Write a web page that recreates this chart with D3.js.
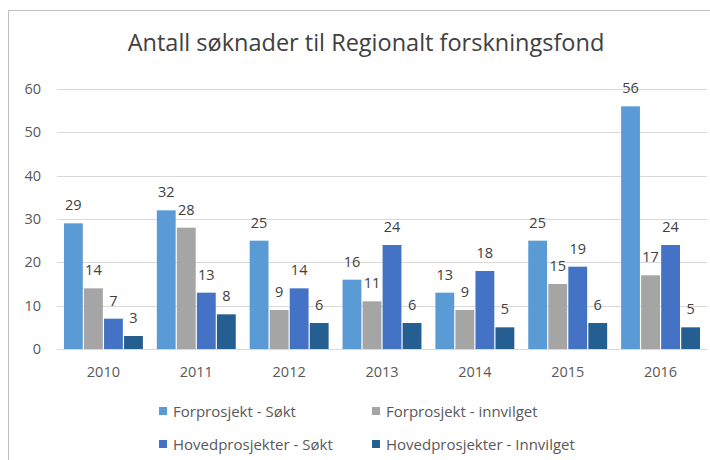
<!DOCTYPE html>
<html>
<head>
<meta charset="utf-8">
<script src="https://cdn.jsdelivr.net/npm/d3@7"></script>
<style>
  body { margin: 0; background: #fff; }
  svg text { font-family: "Open Sans", "Liberation Sans", sans-serif; }
</style>
</head>
<body>
<div id="chart"></div>
<script>
// data
const years = ["2010", "2011", "2012", "2013", "2014", "2015", "2016"];
const seriesNames = ["Forprosjekt - Søkt", "Forprosjekt - innvilget", "Hovedprosjekter - Søkt", "Hovedprosjekter - Innvilget"];
const forSokt = [29, 32, 25, 16, 13, 25, 56];
const forInnvilget = [14, 28, 9, 11, 9, 15, 17];
const hovedSokt = [7, 13, 14, 24, 18, 19, 24];
const hovedInnvilget = [3, 8, 6, 6, 5, 6, 5];
const yTicks = [0, 10, 20, 30, 40, 50, 60];
const colors = ["#5B9BD5", "#A5A5A5", "#4472C4", "#255E91"];

function main() {
    const allSeries = [forSokt, forInnvilget, hovedSokt, hovedInnvilget];
    const data = [];
    years.forEach(function(y, i) {
        allSeries.forEach(function(s, j) {
            data.push({year: y, key: seriesNames[j], value: s[i], idx: j});
        });
    });
    drawChart(data);
}

function drawChart(data) {
    const width = 710, height = 460;
    const margin = {top: 89, right: 3, bottom: 111, left: 57};

    const svg = d3.select("#chart")
        .append("svg")
        .attr("width", width)
        .attr("height", height);

    // outer frame
    svg.append("rect")
        .attr("x", 8.5).attr("y", 10.5)
        .attr("width", 720).attr("height", 470)
        .attr("fill", "#fff")
        .attr("stroke", "#bfbfbf");

    svg.append("text")
        .attr("x", 366).attr("y", 51)
        .attr("text-anchor", "middle")
        .style("font-size", "23.5px")
        .style("fill", "#404040")
        .text("Antall søknader til Regionalt forskningsfond");

    const xScale = d3.scaleBand()
        .domain(years)
        .range([margin.left, width - margin.right])
        .paddingInner(0.15)
        .paddingOuter(0.075);

    const xSub = d3.scaleBand()
        .domain(seriesNames)
        .range([0, xScale.bandwidth()])
        .paddingInner(0.06);

    const yScale = d3.scaleLinear()
        .domain([0, 60])
        .range([height - margin.bottom, margin.top]);

    // gridlines
    svg.append("g")
        .selectAll("line")
        .data(yTicks.slice(1))
        .enter()
        .append("line")
        .attr("x1", margin.left).attr("x2", width - margin.right)
        .attr("y1", d => Math.round(yScale(d)) + 0.5)
        .attr("y2", d => Math.round(yScale(d)) + 0.5)
        .attr("stroke", "#d9d9d9");

    // y tick labels
    svg.append("g")
        .selectAll("text")
        .data(yTicks)
        .enter()
        .append("text")
        .attr("x", 41)
        .attr("y", d => yScale(d) + 5)
        .attr("text-anchor", "end")
        .style("font-size", "14.5px")
        .style("fill", "#595959")
        .text(d => d);

    // bars
    svg.append("g")
        .selectAll("rect")
        .data(data)
        .enter()
        .append("rect")
        .attr("x", d => xScale(d.year) + xSub(d.key))
        .attr("y", d => yScale(d.value))
        .attr("width", xSub.bandwidth())
        .attr("height", d => yScale(0) - yScale(d.value))
        .attr("fill", d => colors[d.idx]);

    // value labels
    svg.append("g")
        .selectAll("text")
        .data(data)
        .enter()
        .append("text")
        .attr("x", d => xScale(d.year) + xSub(d.key) + xSub.bandwidth() / 2)
        .attr("y", d => yScale(d.value) - 13)
        .attr("text-anchor", "middle")
        .style("font-size", "14.5px")
        .style("fill", "#404040")
        .text(d => d.value);

    // x axis line
    svg.append("line")
        .attr("x1", margin.left).attr("x2", width - margin.right)
        .attr("y1", Math.round(yScale(0)) + 0.5)
        .attr("y2", Math.round(yScale(0)) + 0.5)
        .attr("stroke", "#d9d9d9");

    // year labels
    svg.append("g")
        .selectAll("text")
        .data(years)
        .enter()
        .append("text")
        .attr("x", d => xScale(d) + xScale.bandwidth() / 2)
        .attr("y", 377)
        .attr("text-anchor", "middle")
        .style("font-size", "14.5px")
        .style("fill", "#595959")
        .text(d => d);

    // legend (2 x 2)
    const legendPos = [[159, 411], [372, 411], [159, 444], [372, 444]];
    const legend = svg.append("g")
        .selectAll("g")
        .data(seriesNames)
        .enter()
        .append("g")
        .attr("transform", (d, i) => `translate(${legendPos[i][0]}, ${legendPos[i][1]})`);
    legend.append("rect")
        .attr("x", 0).attr("y", -4)
        .attr("width", 8).attr("height", 8)
        .attr("fill", (d, i) => colors[i]);
    legend.append("text")
        .attr("x", 14).attr("y", 5.5)
        .style("font-size", "15px")
        .style("fill", "#595959")
        .text(d => d);
}

main();
</script>
</body>
</html>
